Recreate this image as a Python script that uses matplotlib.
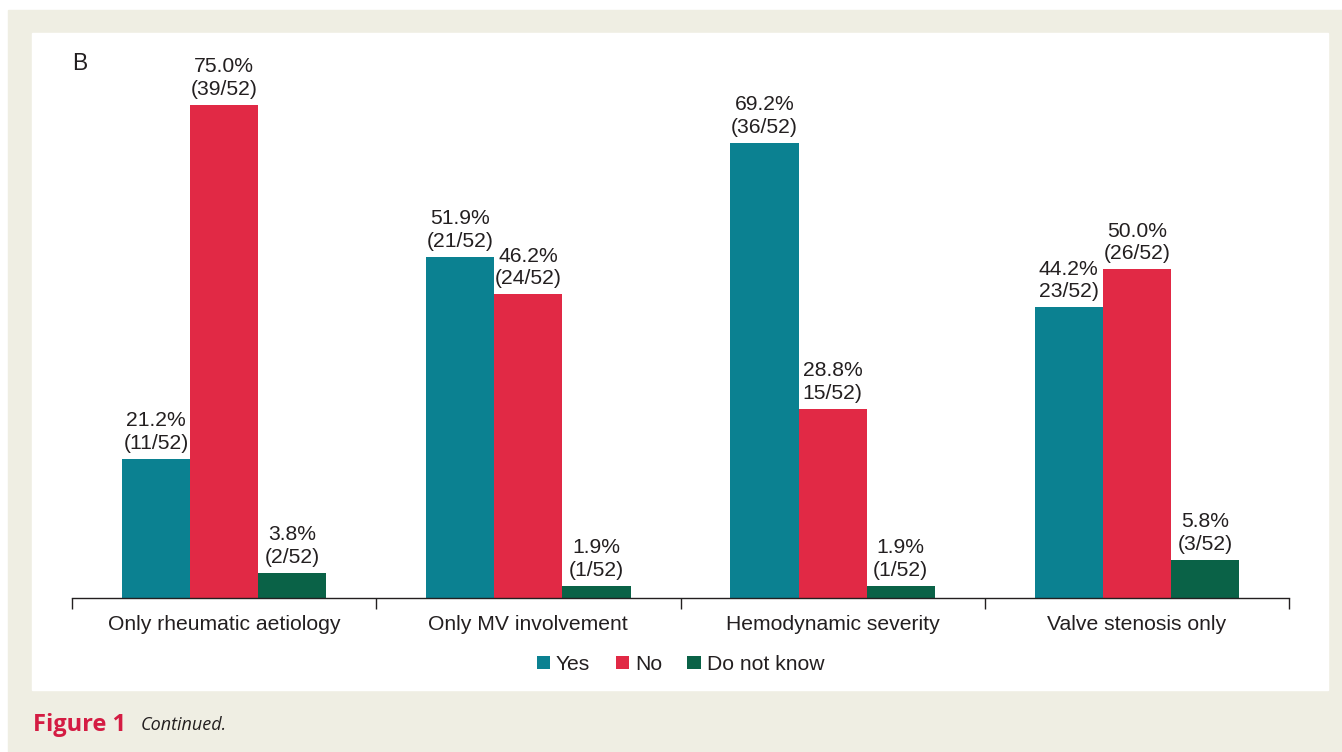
import matplotlib.pyplot as plt
import numpy as np
from matplotlib.patches import Rectangle

# Survey answers per criterion (percent of 52 respondents)
categories = ["Only rheumatic aetiology", "Only MV involvement",
              "Hemodynamic severity", "Valve stenosis only"]
series = ["Yes", "No", "Do not know"]
yes = [21.2, 51.9, 69.2, 44.2]
no = [75.0, 46.2, 28.8, 50.0]
dont_know = [3.8, 1.9, 1.9, 5.8]
yes_labels = ["21.2%\n(11/52)", "51.9%\n(21/52)", "69.2%\n(36/52)", "44.2%\n23/52)"]
no_labels = ["75.0%\n(39/52)", "46.2%\n(24/52)", "28.8%\n15/52)", "50.0%\n(26/52)"]
dk_labels = ["3.8%\n(2/52)", "1.9%\n(1/52)", "1.9%\n(1/52)", "5.8%\n(3/52)"]

colors = ["#0B8191", "#E12945", "#0A6247"]
beige = "#EFEEE3"
txt = "#231F20"
fs = 15.2

plt.rcParams["font.family"] = ["Liberation Sans", "DejaVu Sans"]

fig = plt.figure(figsize=(13.42, 7.52), dpi=100)
W, H = 1342, 752

# page frame: beige backdrop with white panel
fig.patches.append(Rectangle((8 / W, 0), 1 - 8 / W, 1 - 10 / H,
                             transform=fig.transFigure, color=beige, zorder=-2))
fig.patches.append(Rectangle((32 / W, (H - 690) / H), (1328 - 32) / W, (690 - 33) / H,
                             transform=fig.transFigure, color="white", zorder=-1))

ax = fig.add_axes([72 / W, (H - 598) / H, (1289 - 72) / W, (598 - 72) / H])
ax.patch.set_alpha(0)

x = np.arange(len(categories))
w = 0.224
for i, (vals, labs) in enumerate(zip([yes, no, dont_know], [yes_labels, no_labels, dk_labels])):
    pos = x + (i - 1) * w
    ax.bar(pos, vals, width=w, color=colors[i], label=series[i])
    for px, v, lab in zip(pos, vals, labs):
        ax.text(px, v + 0.9, lab, ha="center", va="bottom", fontsize=fs,
                color=txt, linespacing=1.25)

ax.set_xlim(-0.5, 3.5)
ax.set_ylim(0, 80)
for s in ["top", "right", "left"]:
    ax.spines[s].set_visible(False)
ax.spines["bottom"].set_color(txt)
ax.spines["bottom"].set_linewidth(1.0)
ax.set_yticks([])
ax.set_xticks(np.arange(-0.5, 4, 1.0))
ax.set_xticklabels([])
ax.tick_params(axis="x", which="major", length=8, width=1.0, color=txt, direction="out")
ax.set_xticks(x, minor=True)
ax.set_xticklabels(categories, minor=True, fontsize=fs, color=txt)
ax.tick_params(axis="x", which="minor", length=0, pad=12)

ax.legend(loc="upper center", bbox_to_anchor=(0.5, -0.072), ncol=3, frameon=False,
          fontsize=fs, handlelength=0.62, handleheight=0.62, handletextpad=0.3,
          columnspacing=1.2, labelcolor=txt)

fig.text(72 / W, 1 - 64 / H, "B", fontsize=16.5, color=txt, ha="left", va="center")

fig.text(33 / W, 1 - 725 / H, "Figure 1", fontsize=17, fontweight="bold",
         color="#D41C43", family=["Open Sans", "DejaVu Sans"], ha="left", va="center")
fig.text(141 / W, 1 - 725 / H, "Continued.", fontsize=13, style="italic",
         color=txt, family=["Open Sans", "DejaVu Sans"], ha="left", va="center")

fig.savefig("out.png", dpi=100)
